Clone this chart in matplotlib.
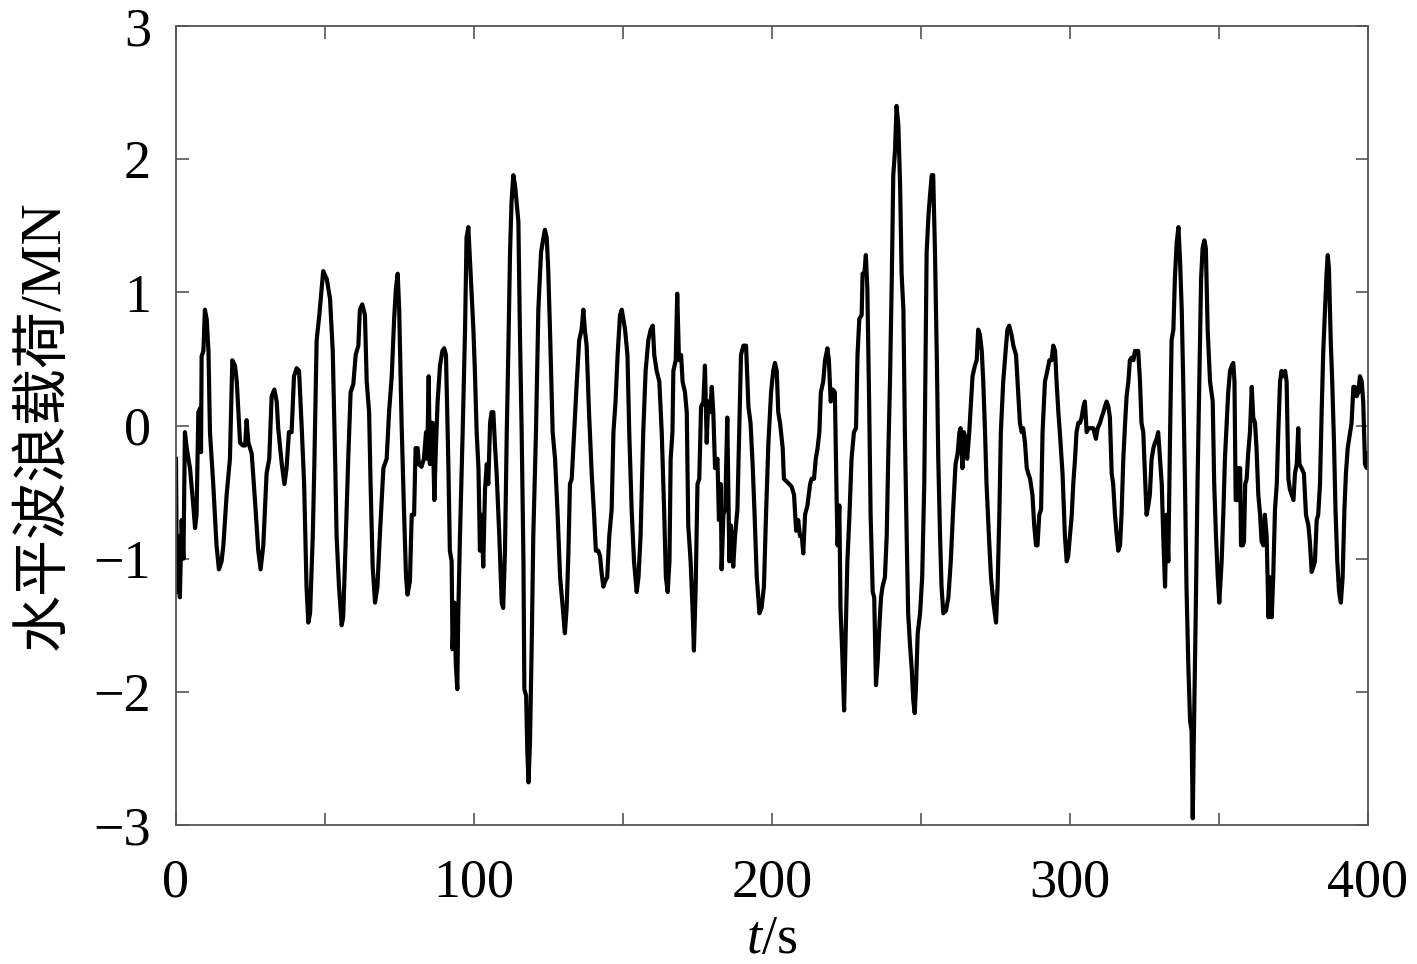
import matplotlib
matplotlib.use('Agg')
import matplotlib.pyplot as plt

plt.rcParams['font.family'] = ['Liberation Serif', 'Noto Sans CJK SC']
plt.rcParams['mathtext.fontset'] = 'custom'
plt.rcParams['mathtext.rm'] = 'Liberation Serif'
plt.rcParams['mathtext.it'] = 'Liberation Serif:italic'

# time (s) and horizontal wave load (MN) in 50 s pieces
t_000 = [0, 0.3, 0.8, 1.3, 1.9, 2.5, 3.0, 3.6, 4.7, 5.8,
         6.4, 6.9, 7.5, 8.1, 8.4, 8.6, 9.2, 9.7, 10.3, 10.9,
         11.4, 12.5, 13.6, 14.4, 15.3, 15.9, 17.0, 18.1, 18.9, 19.8,
         20.4, 21.5, 22.4, 23.2, 23.7, 24.3, 25.4, 26.5, 27.6, 28.4,
         29.3, 30.4, 31.3, 32.1, 33.0, 33.8, 34.3, 35.5, 36.4, 37.1,
         37.9, 38.8, 39.6, 40.5, 41.3, 42.2, 43.0, 43.8, 44.4, 45.0,
         45.9, 46.4, 47.2, 48.1]
f_000 = [-0.25, -1.25, -0.83, -1.29, -0.71, -1.0, -0.05, -0.17, -0.32, -0.6,
         -0.77, -0.67, 0.1, 0.13, -0.2, 0.52, 0.56, 0.87, 0.8, 0.56,
         -0.05, -0.44, -0.9, -1.08, -1.02, -0.9, -0.52, -0.25, 0.49, 0.45,
         0.33, -0.13, -0.15, -0.15, 0.04, -0.13, -0.21, -0.56, -0.94, -1.08,
         -0.9, -0.36, -0.25, 0.22, 0.27, 0.18, -0.02, -0.29, -0.44, -0.32,
         -0.05, -0.05, 0.37, 0.43, 0.41, -0.02, -0.44, -1.21, -1.48, -1.41,
         -0.83, -0.32, 0.64, 0.83]

t_050 = [49.4, 50.6, 51.7, 52.6, 53.4, 53.9, 54.7, 55.6, 56.1, 56.9,
         57.8, 58.6, 59.5, 60.3, 61.2, 61.7, 62.5, 63.4, 64.0, 64.8,
         65.3, 66.0, 66.8, 67.6, 68.4, 69.6, 70.7, 71.5, 72.4, 73.2,
         73.8, 74.4, 74.9, 75.7, 76.5, 77.2, 77.7, 78.5, 79.1, 79.9,
         80.4, 81.1, 81.5, 82.4, 83.2, 83.9, 84.3, 84.8, 85.2, 85.6,
         86.1, 86.7, 87.2, 87.8, 88.6, 89.4, 90.0, 90.6, 91.4, 91.9,
         92.5, 92.8, 93.4, 93.9, 94.4, 94.7, 95.3, 96.2, 97.0, 97.5,
         98.1]
f_050 = [1.16, 1.1, 0.95, 0.56, -0.25, -0.83, -1.21, -1.5, -1.44, -0.9,
         -0.25, 0.25, 0.31, 0.53, 0.6, 0.87, 0.91, 0.83, 0.33, 0.1,
         -0.44, -1.06, -1.33, -1.21, -0.83, -0.32, -0.25, 0.1, 0.37, 0.8,
         1.03, 1.14, 0.87, 0.02, -0.63, -1.14, -1.27, -1.17, -0.67, -0.67,
         -0.17, -0.17, -0.29, -0.31, -0.25, -0.05, -0.25, 0.37, -0.29, 0.02,
         0.02, -0.56, -0.17, 0.18, 0.45, 0.56, 0.58, 0.53, -0.29, -0.94,
         -1.02, -1.68, -1.33, -1.79, -1.98, -1.44, -0.83, -0.05, 0.72, 1.41,
         1.49]

t_100 = [99.8, 100.3, 100.9, 101.5, 102.0, 102.6, 103.1, 103.7, 104.3, 104.8,
         105.4, 105.9, 106.5, 107.0, 107.6, 108.5, 109.3, 109.8, 110.4, 111.0,
         111.5, 112.1, 112.6, 113.2, 113.8, 114.3, 114.9, 115.4, 116.0, 116.6,
         116.9, 117.5, 117.9, 118.3, 118.8, 119.4, 119.9, 120.8, 121.6, 122.5,
         123.3, 123.8, 124.4, 124.9, 125.5, 126.4, 127.2, 128.0, 128.9, 129.8,
         130.5, 131.1, 131.7, 132.2, 132.8, 133.6, 134.5, 135.3, 136.1, 136.7,
         137.2, 137.8, 138.6, 139.5, 140.3, 140.9, 141.7, 142.3, 142.8, 143.4,
         144.0, 144.7, 145.4, 146.2, 146.8, 147.5, 148.2, 149.0, 149.6]
f_100 = [0.72, 0.41, -0.05, -0.32, -0.94, -0.67, -1.06, -0.48, -0.29, -0.44,
         0.02, 0.1, 0.1, -0.13, -0.36, -0.83, -1.33, -1.37, -0.94, -0.05,
         0.53, 1.3, 1.68, 1.88, 1.8, 1.68, 1.53, 0.72, -0.05, -1.02,
         -1.98, -2.03, -2.45, -2.68, -2.37, -1.6, -0.83, -0.05, 0.87, 1.3,
         1.41, 1.47, 1.41, 1.18, 0.72, -0.05, -0.25, -0.63, -1.14, -1.37,
         -1.56, -1.37, -0.94, -0.44, -0.4, -0.05, 0.33, 0.64, 0.72, 0.87,
         0.72, 0.6, 0.1, -0.36, -0.67, -0.94, -0.94, -0.98, -1.1, -1.21,
         -1.17, -1.14, -0.83, -0.63, -0.05, 0.18, 0.53, 0.83, 0.87]

t_150 = [150.7, 151.5, 152.1, 152.9, 153.7, 154.6, 155.2, 155.9, 156.8, 157.6,
         158.5, 159.3, 160.0, 160.5, 161.3, 162.2, 163.0, 163.8, 164.4, 165.0,
         165.6, 166.0, 166.6, 166.9, 167.7, 168.2, 168.8, 169.5, 170.0, 170.8,
         171.4, 171.9, 172.7, 173.4, 173.8, 174.4, 175.0, 175.6, 176.2, 177.0,
         177.5, 178.1, 178.6, 179.2, 179.8, 180.3, 180.9, 181.7, 182.2, 182.8,
         183.1, 183.7, 184.3, 185.0, 185.7, 186.2, 187.0, 187.6, 188.4, 189.0,
         189.6, 190.4, 191.3, 192.1, 192.8, 193.5, 194.1, 194.9, 195.8, 196.5,
         197.3, 198.0, 198.8]
f_150 = [0.72, 0.53, -0.05, -0.63, -1.02, -1.25, -1.14, -0.83, -0.05, 0.41,
         0.64, 0.72, 0.75, 0.53, 0.41, 0.33, -0.05, -0.63, -1.14, -1.25,
         -1.02, -0.25, -0.05, 0.41, 0.49, 0.99, 0.49, 0.53, 0.33, 0.25,
         0.1, -0.75, -1.02, -1.41, -1.69, -1.21, -0.44, -0.4, 0.14, 0.18,
         0.45, -0.13, 0.18, 0.1, 0.29, 0.1, -0.32, -0.25, -0.71, -0.44,
         -1.08, -0.67, -0.63, 0.06, -1.02, -0.75, -1.06, -0.83, -0.63, -0.05,
         0.53, 0.6, 0.6, 0.14, 0.02, -0.29, -0.63, -1.14, -1.41, -1.37,
         -1.21, -0.67, -0.13]

t_200 = [199.7, 200.4, 201.0, 201.6, 202.1, 202.7, 203.6, 204.0, 204.9, 205.8,
         206.6, 207.4, 208.1, 208.8, 209.4, 210.0, 210.5, 211.1, 211.9, 212.8,
         213.3, 214.1, 214.7, 215.3, 215.9, 216.4, 217.2, 217.8, 218.6, 219.1,
         219.7, 220.4, 221.1, 221.7, 222.0, 222.6, 223.0, 223.6, 224.2, 224.7,
         225.3, 226.0, 226.7, 227.5, 228.2, 228.7, 229.3, 230.1, 230.4, 231.0,
         231.5, 232.0, 232.6, 233.1, 233.8, 234.3, 234.9, 235.5, 236.2, 236.6,
         237.1, 237.9, 238.5, 239.0, 239.6, 240.2, 240.7, 241.3, 241.8, 242.4,
         243.0, 243.5, 244.1, 244.6, 245.2, 245.7, 246.3, 246.9, 247.4, 247.9,
         248.3, 248.9, 249.7, 250.4, 251.1]
f_200 = [0.25, 0.41, 0.47, 0.41, 0.1, 0.02, -0.17, -0.4, -0.42, -0.44,
         -0.46, -0.52, -0.79, -0.71, -0.83, -0.83, -0.96, -0.67, -0.6, -0.44,
         -0.4, -0.4, -0.25, -0.17, -0.05, 0.25, 0.33, 0.49, 0.58, 0.49,
         0.18, 0.27, 0.25, -0.56, -0.9, -0.6, -1.37, -1.72, -2.14, -1.6,
         -1.02, -0.67, -0.25, -0.05, -0.02, 0.53, 0.8, 0.83, 1.14, 1.14,
         1.28, 1.03, 0.18, -0.67, -1.25, -1.29, -1.95, -1.76, -1.44, -1.29,
         -1.21, -1.14, -0.83, -0.25, 0.33, 1.1, 1.88, 2.07, 2.4, 2.26,
         1.8, 1.14, 0.87, -0.05, -0.83, -1.41, -1.64, -1.83, -2.06, -2.16,
         -1.98, -1.56, -1.41, -1.14, -0.44]

t_250 = [251.9, 252.5, 253.0, 253.6, 254.1, 254.7, 255.3, 255.8, 256.4, 256.9,
         257.5, 258.4, 259.2, 260.0, 260.8, 261.6, 262.3, 262.9, 263.3, 263.9,
         264.4, 265.0, 265.5, 266.2, 266.7, 267.3, 268.1, 268.7, 269.2, 269.8,
         270.4, 270.9, 271.5, 272.0, 272.8, 273.5, 274.3, 275.2, 275.7, 276.3,
         276.8, 277.6, 278.4, 279.0, 279.6, 280.4, 281.0, 281.9, 282.4, 283.2,
         283.8, 284.3, 284.9, 285.5, 286.0, 286.6, 287.4, 288.0, 288.6, 289.1,
         289.7, 290.3, 290.8, 291.6, 292.4, 293.1, 293.8, 294.4, 295.0, 295.5,
         296.1, 296.6, 297.5, 298.3, 298.9, 299.4]
f_250 = [1.3, 1.57, 1.72, 1.88, 1.88, 1.3, 0.53, -0.25, -0.83, -1.21,
         -1.41, -1.39, -1.29, -1.02, -0.63, -0.29, -0.21, -0.05, -0.02, -0.32,
         -0.05, -0.1, -0.25, -0.05, 0.14, 0.37, 0.45, 0.49, 0.72, 0.68,
         0.56, 0.33, -0.05, -0.44, -0.83, -1.14, -1.33, -1.48, -1.21, -0.67,
         -0.05, 0.33, 0.56, 0.72, 0.75, 0.68, 0.6, 0.53, 0.33, 0.02,
         -0.05, -0.02, -0.13, -0.32, -0.36, -0.4, -0.52, -0.75, -0.9, -0.9,
         -0.67, -0.63, -0.05, 0.33, 0.41, 0.49, 0.49, 0.6, 0.56, 0.33,
         0.1, -0.05, -0.36, -0.83, -1.02, -0.98]

t_300 = [300.6, 301.1, 301.7, 302.2, 302.8, 303.4, 303.9, 304.5, 305.0, 305.6,
         306.2, 306.7, 307.3, 307.8, 308.7, 309.3, 310.1, 310.6, 311.2, 311.7,
         312.3, 312.9, 313.4, 314.0, 314.5, 315.1, 315.7, 316.2, 316.8, 317.3,
         317.9, 318.5, 319.0, 319.6, 320.1, 320.7, 321.3, 321.8, 322.4, 322.9,
         323.5, 324.0, 324.6, 325.2, 325.7, 326.3, 326.8, 327.4, 328.0, 328.5,
         329.1, 329.6, 330.2, 330.8, 331.3, 331.9, 332.4, 333.0, 333.6, 334.1,
         334.7, 335.2, 335.8, 336.4, 336.9, 337.5, 338.0, 338.6, 339.1, 339.7,
         340.3, 340.8, 341.2, 341.6, 342.2, 342.8, 343.4, 344.0, 344.5, 345.1,
         345.6, 346.2, 347.0, 347.9, 348.4, 349.0, 349.6, 350.1]
f_300 = [-0.67, -0.44, -0.25, -0.05, 0.02, 0.02, 0.06, 0.14, 0.18, -0.05,
         -0.02, -0.02, -0.02, -0.02, -0.1, -0.02, 0.02, 0.06, 0.1, 0.14,
         0.18, 0.14, 0.06, -0.36, -0.44, -0.67, -0.83, -0.94, -0.9, -0.67,
         -0.25, 0.02, 0.22, 0.33, 0.49, 0.51, 0.49, 0.56, 0.56, 0.56,
         0.33, 0.02, -0.05, -0.4, -0.67, -0.6, -0.52, -0.25, -0.17, -0.13,
         -0.1, -0.05, -0.25, -0.44, -0.83, -1.21, -0.67, -1.02, -0.05, 0.64,
         0.72, 1.1, 1.37, 1.49, 1.26, 0.87, 0.33, -0.44, -1.21, -1.79,
         -2.22, -2.29, -2.95, -2.29, -1.41, -0.44, 0.33, 1.1, 1.33, 1.39,
         1.33, 0.72, 0.33, 0.18, -0.44, -0.83, -1.14, -1.33]

t_350 = [350.9, 351.5, 352.0, 352.6, 353.1, 353.7, 354.3, 354.8, 355.2, 355.6,
         356.2, 356.5, 357.1, 357.4, 358.0, 358.4, 358.8, 359.3, 359.8, 360.4,
         361.0, 361.5, 362.1, 362.6, 363.2, 363.8, 364.3, 364.9, 365.4, 366.0,
         366.6, 367.1, 367.7, 368.2, 368.8, 369.4, 369.9, 370.5, 371.0, 371.6,
         372.2, 372.7, 373.3, 373.8, 374.4, 375.0, 375.5, 376.1, 376.6, 377.0,
         377.7, 378.5, 379.2, 380.0, 380.5, 381.1, 381.7, 382.2, 382.8, 383.3,
         383.9, 384.5, 385.0, 385.6, 386.1, 386.5, 386.9, 387.5, 388.0, 388.6,
         389.1, 389.7, 390.3, 390.9, 391.5, 392.1, 392.6, 393.2, 394.0, 394.5,
         395.1, 395.6, 396.2, 396.8, 397.3, 397.9, 398.4, 399.0, 399.6, 400.0]
f_350 = [-1.02, -0.63, -0.25, 0.02, 0.25, 0.41, 0.45, 0.47, 0.33, -0.56,
         -0.56, -0.32, -0.32, -0.9, -0.9, -0.87, -0.44, -0.4, -0.21, -0.05,
         0.29, 0.06, 0.02, -0.17, -0.52, -0.67, -0.87, -0.9, -0.67, -0.83,
         -1.44, -1.14, -1.44, -1.14, -0.63, -0.44, -0.05, 0.33, 0.41, 0.37,
         0.41, 0.33, -0.4, -0.48, -0.52, -0.56, -0.36, -0.29, -0.02, -0.29,
         -0.32, -0.36, -0.67, -0.75, -0.87, -1.1, -1.06, -1.02, -0.71, -0.67,
         -0.44, 0.14, 0.56, 0.87, 1.14, 1.28, 1.18, 0.64, 0.33, -0.13,
         -0.63, -1.02, -1.25, -1.33, -1.14, -0.63, -0.36, -0.17, -0.05, 0.02,
         0.29, 0.29, 0.22, 0.25, 0.37, 0.33, 0.18, -0.29, -0.32, -0.21]

x_ticks = [0, 50, 100, 150, 200, 250, 300, 350, 400]
x_labels = ['0', '', '100', '', '200', '', '300', '', '400']
y_ticks = [-3, -2, -1, 0, 1, 2, 3]

t = t_000 + t_050 + t_100 + t_150 + t_200 + t_250 + t_300 + t_350
load = f_000 + f_050 + f_100 + f_150 + f_200 + f_250 + f_300 + f_350

fig = plt.figure(figsize=(14.17, 9.64), dpi=100)
ax = fig.add_axes([0.1242, 0.1442, 0.8412, 0.8288])

ax.plot(t, load, color='black', linewidth=3.0)

ax.set_xlim(0, 400)
ax.set_ylim(-3, 3)
ax.set_xticks(x_ticks)
ax.set_xticklabels(x_labels)
ax.set_yticks(y_ticks)

for s in ax.spines.values():
    s.set_color('#555555')
    s.set_linewidth(1.3)

ax.tick_params(direction='in', top=True, right=True, length=9, width=1.2,
               color='#555555', labelsize=39)
ax.tick_params(axis='x', pad=24)
ax.tick_params(axis='y', pad=18)

ax.set_xlabel('$t$/s', fontsize=39, labelpad=4)
ax.set_ylabel('水平波浪载荷/MN', fontsize=41)
ax.yaxis.set_label_coords(-0.088, 0.5)

fig.savefig('out.png', dpi=100)
